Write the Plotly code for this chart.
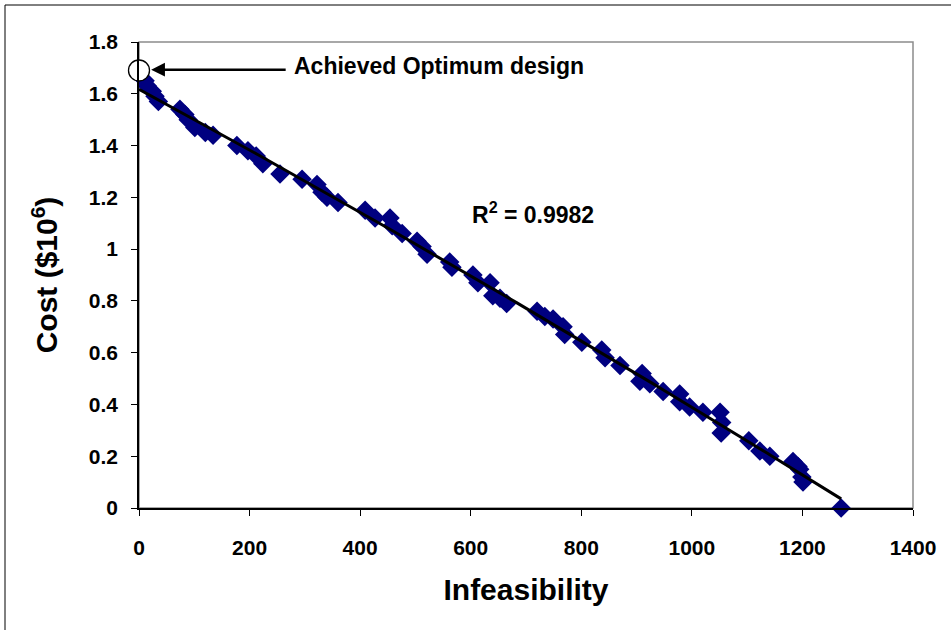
import numpy as np
import plotly.graph_objects as go

# Data
infeasibility = [11, 15, 24, 29, 35, 74, 83, 89, 101, 120, 134, 177, 197, 212, 224, 255,
                 295, 322, 331, 340, 360, 409, 427, 454, 458, 476, 503, 512, 521, 562,
                 566, 604, 613, 635, 640, 653, 665, 720, 734, 749, 767, 770, 801, 837,
                 843, 870, 910, 906, 924, 948, 978, 978, 996, 1020, 1051, 1054, 1053,
                 1103, 1123, 1141, 1183, 1192, 1195, 1199, 1201, 1270]
cost = [1.65, 1.63, 1.61, 1.59, 1.57, 1.54, 1.52, 1.50, 1.47, 1.45, 1.44, 1.40, 1.38,
        1.36, 1.33, 1.29, 1.27, 1.25, 1.22, 1.20, 1.18, 1.15, 1.12, 1.12, 1.09, 1.06,
        1.03, 1.01, 0.98, 0.95, 0.93, 0.90, 0.87, 0.87, 0.82, 0.81, 0.79, 0.76, 0.74,
        0.73, 0.70, 0.67, 0.64, 0.61, 0.58, 0.55, 0.52, 0.49, 0.48, 0.45, 0.44, 0.41,
        0.39, 0.37, 0.37, 0.33, 0.29, 0.26, 0.22, 0.20, 0.18, 0.16, 0.15, 0.12, 0.10,
        0.00]
optimum_x = [0]
optimum_y = [1.69]
x_ticks = [0, 200, 400, 600, 800, 1000, 1200, 1400]
y_ticks = [0, 0.2, 0.4, 0.6, 0.8, 1.0, 1.2, 1.4, 1.6, 1.8]
y_tick_text = ["0", "0.2", "0.4", "0.6", "0.8", "1", "1.2", "1.4", "1.6", "1.8"]
r2_label = "R<sup>2</sup> = 0.9982"

# Polynomial (order 2) trendline fitted from data
coef = np.polyfit(infeasibility, cost, 2)
tx = np.linspace(0, max(infeasibility), 200)
ty = np.polyval(coef, tx)

FONT = "Liberation Sans, Arial, sans-serif"

fig = go.Figure()
fig.add_trace(go.Scatter(x=infeasibility, y=cost, mode="markers",
                         marker=dict(symbol="diamond", size=15, color="#000080",
                                     line=dict(width=0)),
                         showlegend=False, cliponaxis=False))
fig.add_trace(go.Scatter(x=tx, y=ty, mode="lines",
                         line=dict(color="black", width=3), showlegend=False))
fig.add_trace(go.Scatter(x=optimum_x, y=optimum_y, mode="markers",
                         marker=dict(symbol="circle", size=21, color="white",
                                     line=dict(color="black", width=1.3)),
                         showlegend=False, cliponaxis=False))

fig.update_layout(
    width=951, height=630,
    margin=dict(l=139, r=38, t=42, b=122),
    paper_bgcolor="white", plot_bgcolor="white",
    font=dict(family=FONT, color="black"),
    xaxis=dict(range=[0, 1400], tickvals=x_ticks, showgrid=False, zeroline=False,
               showline=True, linecolor="black", linewidth=1.5,
               ticks="outside", ticklen=6, tickcolor="black", ticklabelstandoff=14,
               tickfont=dict(family=FONT, size=21, color="black", weight="bold"),
               title=dict(text="<b>Infeasibility</b>", font=dict(family=FONT, size=30),
                          standoff=21)),
    yaxis=dict(range=[0, 1.8], tickvals=y_ticks, ticktext=y_tick_text,
               showgrid=False, zeroline=False,
               showline=True, linecolor="black", linewidth=1.5,
               ticks="outside", ticklen=6, tickcolor="black", ticklabelstandoff=9,
               tickfont=dict(family=FONT, size=21, color="black", weight="bold"),
               title=dict(text="<b>Cost ($10<sup>6</sup>)</b>", font=dict(family=FONT, size=30),
                          standoff=22)),
    shapes=[
        dict(type="rect", xref="paper", yref="paper", x0=0, x1=1, y0=0, y1=1,
             line=dict(color="#8c8c8c", width=1.5), layer="below"),
        dict(type="rect", xref="paper", yref="paper", x0=-134/774, x1=1.2,
             y0=-0.4, y1=(508-5)/466, line=dict(color="black", width=1), layer="below"),
    ],
    annotations=[
        dict(x=22, y=1.693, ax=268, ay=1.693, xref="x", yref="y", axref="x", ayref="y",
             showarrow=True, arrowhead=2, arrowsize=1.1, arrowwidth=2.5,
             arrowcolor="black", text=""),
        dict(x=277, y=1.707, xref="x", yref="y", xanchor="left", yanchor="middle",
             showarrow=False, text="<b>Achieved Optimum design</b>",
             font=dict(family=FONT, size=23, color="black")),
        dict(x=713, y=1.139, xref="x", yref="y", xanchor="center", yanchor="middle",
             showarrow=False, text="<b>" + r2_label + "</b>",
             font=dict(family=FONT, size=23, color="black")),
    ],
)

fig.write_html("out.html")
